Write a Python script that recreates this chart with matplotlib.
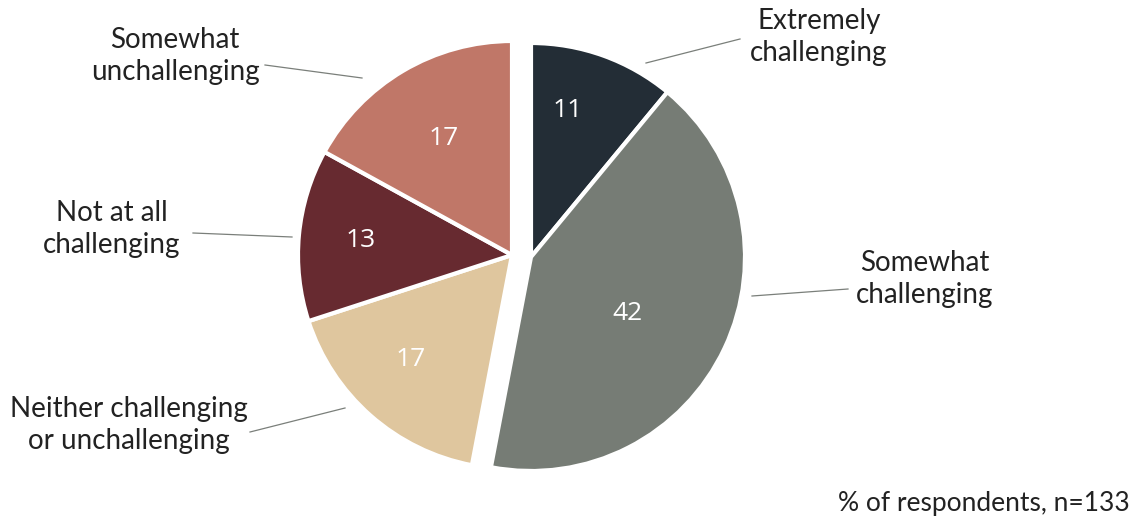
import numpy as np
import matplotlib

matplotlib.use("Agg")
import matplotlib.pyplot as plt

# data
categories = [
    "Extremely\nchallenging",
    "Somewhat\nchallenging",
    "Neither challenging\nor unchallenging",
    "Not at all\nchallenging",
    "Somewhat\nunchallenging",
]
shares = [11, 42, 17, 13, 17]
colors = ["#232d36", "#767c75", "#dfc69e", "#672a30", "#c07768"]
note = "% of respondents, n=133"

# layout (pixel coordinates, y measured from top)
W, H = 1141, 520
center_px = (512, 255)
radius_px = 214
group_shift = (19, -2)          # the two "challenging" slices are pulled out together
shifted = [True, True, False, False, False]
value_radius = [0.705, 0.52, 0.68, 0.71, 0.63]
value_nudge = [5.7, -5.1, -2.8, 0.0, 0.0]
label_pos = [(819, 37), (925, 279), (129, 425), (112, 229), (175, 56)]
leader_lines = [
    ((646, 63), (740, 39)),
    ((752, 296), (848, 289)),
    ((345, 408), (250, 432)),
    ((292, 237), (193, 233)),
    ((362, 78), (265, 65)),
]


def py(y):
    return H - y


fig = plt.figure(figsize=(W / 100, H / 100), dpi=100)
ax = fig.add_axes([0, 0, 1, 1])

wedges, _ = ax.pie(
    shares,
    colors=colors,
    startangle=90,
    counterclock=False,
    center=(center_px[0], py(center_px[1])),
    radius=radius_px,
    wedgeprops=dict(edgecolor="white", linewidth=3.0),
)
ax.set_xlim(0, W)
ax.set_ylim(0, H)
ax.set_aspect("equal")
ax.axis("off")

for i, w in enumerate(wedges):
    if shifted[i]:
        cx, cy = w.center
        w.set_center((cx + group_shift[0], cy + group_shift[1]))
    cx, cy = w.center
    ang = np.deg2rad((w.theta1 + w.theta2) / 2 + value_nudge[i])
    r = value_radius[i] * radius_px
    ax.text(cx + r * np.cos(ang), cy + r * np.sin(ang), str(shares[i]),
            ha="center", va="center", color="white", fontsize=19,
            family="Open Sans")

for (p0, p1), (lx, ly), name in zip(leader_lines, label_pos, categories):
    ax.plot([p0[0], p1[0]], [py(p0[1]), py(p1[1])], color="#7a7f7a", lw=0.9)
    ax.text(lx, py(ly), name, ha="center", va="center", fontsize=20,
            family="Lato", color="#222222", linespacing=1.33)

ax.text(1130, py(503), note, ha="right", va="center", fontsize=19,
        family="Lato", color="#222222")

fig.savefig("out.png", dpi=100)
